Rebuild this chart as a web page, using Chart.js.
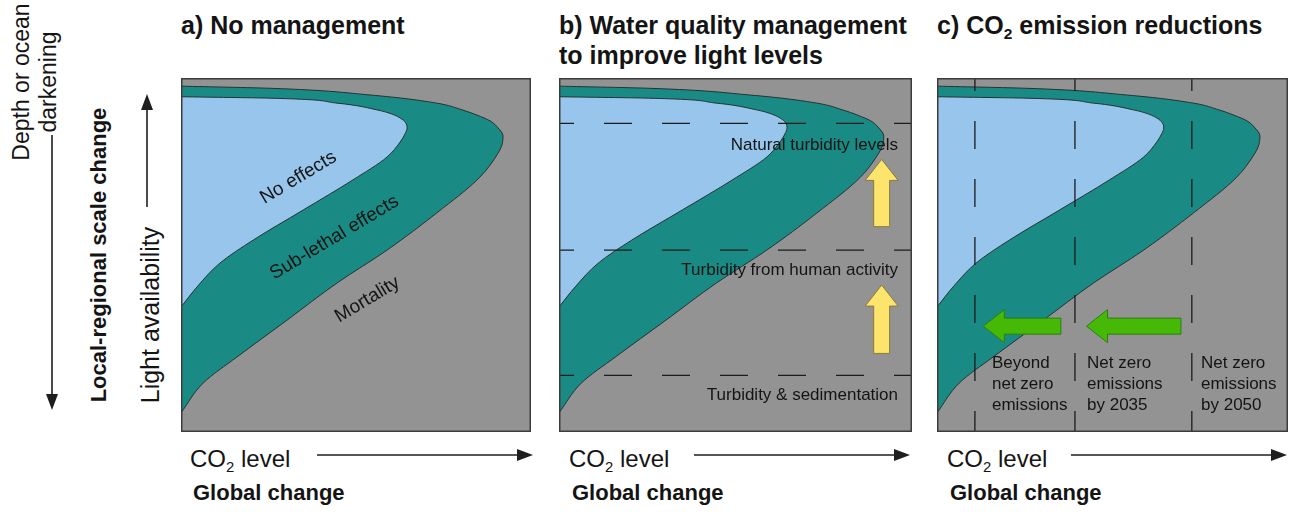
<!DOCTYPE html>
<html>
<head>
<meta charset="utf-8">
<script src="https://cdn.jsdelivr.net/npm/chart.js@4.4.1/dist/chart.umd.min.js"></script>
<style>
body { margin: 0; background: #fff; font-family: "Liberation Sans", Arial, sans-serif; color: #141414; }
#page { position: relative; width: 1289px; height: 515px; overflow: hidden; }
.box { position: absolute; top: 78px; height: 354px; }
.t { position: absolute; white-space: nowrap; }
.title { font-weight: bold; font-size: 25px; line-height: 30px; top: 10px; }
.co2 { font-size: 24px; line-height: 26px; top: 446px; }
.glob { font-weight: bold; font-size: 22px; line-height: 24px; top: 481px; }
.sub { font-size: 0.62em; position: relative; top: 0.35em; }
.rot { transform: translate(-50%, -50%) rotate(-90deg); text-align: center; }
.lab { font-size: 17px; line-height: 20px; }
.tilt { font-size: 19px; transform: translate(-50%, -50%) rotate(-31deg); }
.em { font-size: 17px; line-height: 21px; top: 352px; }
svg { position: absolute; left: 0; top: 0; }
</style>
</head>
<body>
<div id="page">
  <div class="box" style="left:181px;width:350px"><canvas id="panelA"></canvas></div>
  <div class="box" style="left:559px;width:353px"><canvas id="panelB"></canvas></div>
  <div class="box" style="left:937px;width:351px"><canvas id="panelC"></canvas></div>

  <div class="t title" style="left:181px">a) No management</div>
  <div class="t title" style="left:559px">b) Water quality management<br>to improve light levels</div>
  <div class="t title" style="left:937px">c) CO<span class="sub">2</span> emission reductions</div>

  <div class="t rot" style="left:35px;top:82px;font-size:23px;line-height:27px">Depth or ocean<br>darkening</div>
  <div class="t rot" style="left:99px;top:255px;font-size:22px;font-weight:bold">Local-regional scale change</div>
  <div class="t rot" style="left:150px;top:315px;font-size:25px">Light availability</div>

  <div class="t tilt" style="left:298px;top:177px">No effects</div>
  <div class="t tilt" style="left:334px;top:237px">Sub-lethal effects</div>
  <div class="t tilt" style="left:367px;top:299px">Mortality</div>

  <div class="t lab" style="right:391px;top:135px">Natural turbidity levels</div>
  <div class="t lab" style="right:391px;top:260px">Turbidity from human activity</div>
  <div class="t lab" style="right:391px;top:385px">Turbidity &amp; sedimentation</div>

  <div class="t em" style="left:992px">Beyond<br>net zero<br>emissions</div>
  <div class="t em" style="left:1087px">Net zero<br>emissions<br>by 2035</div>
  <div class="t em" style="left:1201px">Net zero<br>emissions<br>by 2050</div>

  <div class="t co2" style="left:190px">CO<span class="sub">2</span> level</div>
  <div class="t co2" style="left:569px">CO<span class="sub">2</span> level</div>
  <div class="t co2" style="left:947px">CO<span class="sub">2</span> level</div>
  <div class="t glob" style="left:193px">Global change</div>
  <div class="t glob" style="left:572px">Global change</div>
  <div class="t glob" style="left:950px">Global change</div>

  <svg width="1289" height="515">
    <g stroke="#1e1e1e" stroke-width="1.6" fill="#1e1e1e">
      <line x1="52" y1="135" x2="52" y2="398"/><polygon points="46,394 58,394 52,410" stroke="none"/>
      <line x1="147" y1="207" x2="147" y2="106"/><polygon points="141,110 153,110 147,94" stroke="none"/>
      <line x1="317" y1="455" x2="520" y2="455"/><polygon points="517,449 517,461 533,455" stroke="none"/>
      <line x1="694" y1="455" x2="897" y2="455"/><polygon points="894,449 894,461 910,455" stroke="none"/>
      <line x1="1071" y1="455" x2="1273" y2="455"/><polygon points="1271,449 1271,461 1287,455" stroke="none"/>
    </g>
  </svg>
</div>

<script>
// outlines of the response zones
// x = CO2 level (0-100 across the panel), y = light availability (0 bottom - 100 top)
var outerX = [0, 25.4, 54.0, 73.1, 80.3, 84.6, 88.3, 90.6, 92.0, 91.7, 90.6, 85.4, 73.1, 58.9, 44.6, 30.3, 16.0, 6.3, 0];
var outerY = [97.7, 97.1, 95.2, 92.9, 91.0, 89.5, 87.9, 85.9, 83.6, 81.1, 78.8, 72.0, 61.9, 51.4, 42.1, 31.6, 21.2, 13.8, 5.4];
var innerX = [0, 25.4, 44.6, 56.0, 60.3, 63.1, 64.4, 64.6, 64.0, 62.6, 58.9, 49.1, 34.9, 20.6, 11.1, 4.6, 0];
var innerY = [94.7, 94.3, 92.9, 91.0, 89.8, 88.4, 87.0, 85.9, 84.2, 81.9, 77.7, 71.2, 62.7, 54.2, 47.7, 41.0, 35.3];

// panel b: turbidity boundaries (light level)
var turbidityLevels = [87.2, 51.4, 16.0];
// panel c: emission scenarios (CO2 level)
var emissionLevels = [10.8, 39.3, 72.6];

// block arrows: [position, tail, tip]
var lightArrows = [[91.4, 58, 77], [91.4, 22.2, 41.5]];
var co2Arrows = [[29.9, 35.3, 13.2], [29.9, 69.5, 42.6]];

function pts(xs, ys) {
  return xs.map(function (v, i) { return {x: v, y: ys[i]}; });
}

var panelFrame = {
  id: 'panelFrame',
  beforeDraw: function (chart) {
    var a = chart.chartArea, ctx = chart.ctx;
    ctx.save();
    ctx.fillStyle = '#939393';
    ctx.fillRect(a.left, a.top, a.width, a.height);
    ctx.restore();
  },
  afterDraw: function (chart) {
    var a = chart.chartArea, ctx = chart.ctx;
    ctx.save();
    ctx.strokeStyle = '#3c3c3c';
    ctx.lineWidth = 1.5;
    ctx.strokeRect(a.left + 0.75, a.top + 0.75, a.width - 1.5, a.height - 1.5);
    ctx.restore();
  }
};

var blockArrows = {
  id: 'blockArrows',
  afterDatasetsDraw: function (chart, args, o) {
    if (!o.items) return;
    var ctx = chart.ctx, xs = chart.scales.x, ys = chart.scales.y;
    o.items.forEach(function (a) {
      var p;
      if (o.dir === 'up') {
        var cx = xs.getPixelForValue(a[0]), y0 = ys.getPixelForValue(a[1]), y1 = ys.getPixelForValue(a[2]);
        var hb = y1 + o.head;
        p = [[cx - o.shaft, y0], [cx - o.shaft, hb], [cx - o.half, hb], [cx, y1], [cx + o.half, hb], [cx + o.shaft, hb], [cx + o.shaft, y0]];
      } else {
        var cy = ys.getPixelForValue(a[0]), x0 = xs.getPixelForValue(a[1]), x1 = xs.getPixelForValue(a[2]);
        var hx = x1 + o.head;
        p = [[x0, cy - o.shaft], [hx, cy - o.shaft], [hx, cy - o.half], [x1, cy], [hx, cy + o.half], [hx, cy + o.shaft], [x0, cy + o.shaft]];
      }
      ctx.save();
      ctx.beginPath();
      p.forEach(function (q, i) { if (i) ctx.lineTo(q[0], q[1]); else ctx.moveTo(q[0], q[1]); });
      ctx.closePath();
      ctx.fillStyle = o.fill;
      ctx.fill();
      ctx.strokeStyle = o.stroke;
      ctx.lineWidth = 1;
      ctx.stroke();
      ctx.restore();
    });
  }
};

function makePanel(id, guides, arrows) {
  var sets = guides.concat([
    {data: pts(innerX, innerY), backgroundColor: '#97c5ec', fill: {value: 0}},
    {data: pts(outerX, outerY), backgroundColor: '#198a84', fill: {value: 0}}
  ]);
  sets.forEach(function (s) {
    s.pointRadius = 0;
    if (!s.borderDash) { s.borderColor = '#263232'; s.borderWidth = 1; s.cubicInterpolationMode = 'monotone'; }
  });
  return new Chart(document.getElementById(id), {
    type: 'line',
    data: {datasets: sets},
    options: {
      indexAxis: 'y',
      responsive: true,
      maintainAspectRatio: false,
      animation: false,
      layout: {padding: 0},
      scales: {
        x: {type: 'linear', min: 0, max: 100, display: false},
        y: {type: 'linear', min: 0, max: 100, display: false}
      },
      plugins: {
        legend: {display: false},
        tooltip: {enabled: false},
        blockArrows: arrows || {}
      }
    },
    plugins: [panelFrame, blockArrows]
  });
}

var dashed = {borderColor: '#1c1c1c', borderWidth: 1.3, borderDash: [28, 30], fill: false};

makePanel('panelA', []);

makePanel('panelB', turbidityLevels.map(function (v) {
  return Object.assign({}, dashed, {borderDashOffset: 13, data: [{x: 0, y: v}, {x: 100, y: v}]});
}), {items: lightArrows, dir: 'up', head: 21, half: 16.5, shaft: 8, fill: '#fde46c', stroke: '#8a7a3a'});

makePanel('panelC', emissionLevels.map(function (v) {
  return Object.assign({}, dashed, {borderDashOffset: 15, data: [{x: v, y: 100}, {x: v, y: 0}]});
}), {items: co2Arrows, dir: 'left', head: 21, half: 16.5, shaft: 8, fill: '#46b906', stroke: '#2f7d12'});
</script>
</body>
</html>
